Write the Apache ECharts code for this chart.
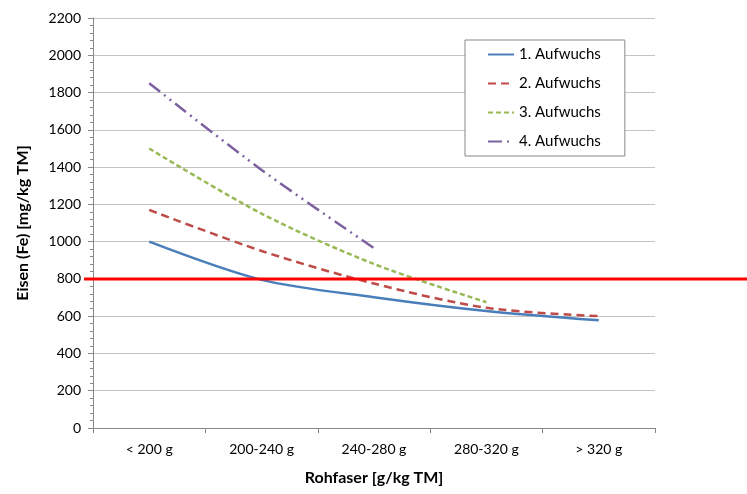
<!DOCTYPE html>
<html><head><meta charset="utf-8">
<script src="https://cdn.jsdelivr.net/npm/echarts@6/dist/echarts.min.js"></script>
<style>html,body{margin:0;padding:0;background:#fff}#c{width:747px;height:494px}</style>
</head><body><div id="c"></div>
<script>
var categories = ['< 200 g', '200-240 g', '240-280 g', '280-320 g', '> 320 g'];
var seriesNames = ['1. Aufwuchs', '2. Aufwuchs', '3. Aufwuchs', '4. Aufwuchs'];
var aufwuchs1 = [1000, 795, 702, 628, 578];
var aufwuchs2 = [1170, 950, 775, 645, 600];
var aufwuchs3 = [1500, 1150, 880, 675, null];
var aufwuchs4 = [1850, 1385, 965, null, null];
var thresholdValue = 800;
var yTicks = {min: 0, max: 2200, interval: 200};

var FONT = 'Lato';
var colors = ['#4a7ebb', '#be4b48', '#98b954', '#7d60a0'];
var dashes = ['solid', [8, 5], [5, 3], [14, 5, 2, 5, 2, 5]];
var dataSets = [aufwuchs1, aufwuchs2, aufwuchs3, aufwuchs4];

var chart = echarts.init(document.getElementById('c'));
var series = dataSets.map(function (d, i) {
  return {
    name: seriesNames[i], type: 'line', data: d, smooth: 0.3,
    symbol: 'none', connectNulls: false,
    lineStyle: {color: colors[i], width: 2.5, type: dashes[i]},
    itemStyle: {color: colors[i]}
  };
});
chart.setOption({
  animation: false,
  textStyle: {fontFamily: FONT},
  grid: {left: 93, right: 92, top: 18, bottom: 66},
  legend: {
    orient: 'vertical', left: 465, top: 40,
    padding: [7, 24, 7, 22], itemGap: 14, itemWidth: 26, itemHeight: 14,
    backgroundColor: '#fff', borderColor: '#888', borderWidth: 1,
    itemStyle: {opacity: 0},
    textStyle: {fontFamily: FONT, fontSize: 15, color: '#000'},
    data: seriesNames
  },
  xAxis: {
    type: 'category', data: categories, boundaryGap: true,
    name: 'Rohfaser [g/kg TM]', nameLocation: 'middle', nameGap: 42,
    nameTextStyle: {fontFamily: FONT, fontSize: 16, fontWeight: 'bold', color: '#000'},
    axisLine: {lineStyle: {color: '#888'}},
    axisTick: {show: true, length: 5, interval: 0, lineStyle: {color: '#888'}},
    axisLabel: {fontFamily: FONT, fontSize: 14, color: '#000', margin: 14}
  },
  yAxis: {
    type: 'value', min: yTicks.min, max: yTicks.max, interval: yTicks.interval,
    name: 'Eisen (Fe) [mg/kg TM]', nameLocation: 'middle', nameGap: 62, nameRotate: 90,
    nameTextStyle: {fontFamily: FONT, fontSize: 16, fontWeight: 'bold', color: '#000'},
    axisLine: {show: true, lineStyle: {color: '#888'}},
    axisTick: {show: true, length: 5, lineStyle: {color: '#888'}},
    minorTick: {show: true, splitNumber: 5, length: 3, lineStyle: {color: '#888'}},
    splitLine: {show: true, lineStyle: {color: '#c4c4c4', width: 1}},
    axisLabel: {fontFamily: FONT, fontSize: 14, color: '#000', margin: 12,
      formatter: function (v) { return String(v); }}
  },
  series: series
});
var yPix = chart.convertToPixel({yAxisIndex: 0}, thresholdValue);
chart.setOption({
  graphic: [{
    type: 'line', z: 100,
    shape: {x1: 84, y1: yPix, x2: 747, y2: yPix},
    style: {stroke: '#ff0000', lineWidth: 3}
  }]
});
</script></body></html>
